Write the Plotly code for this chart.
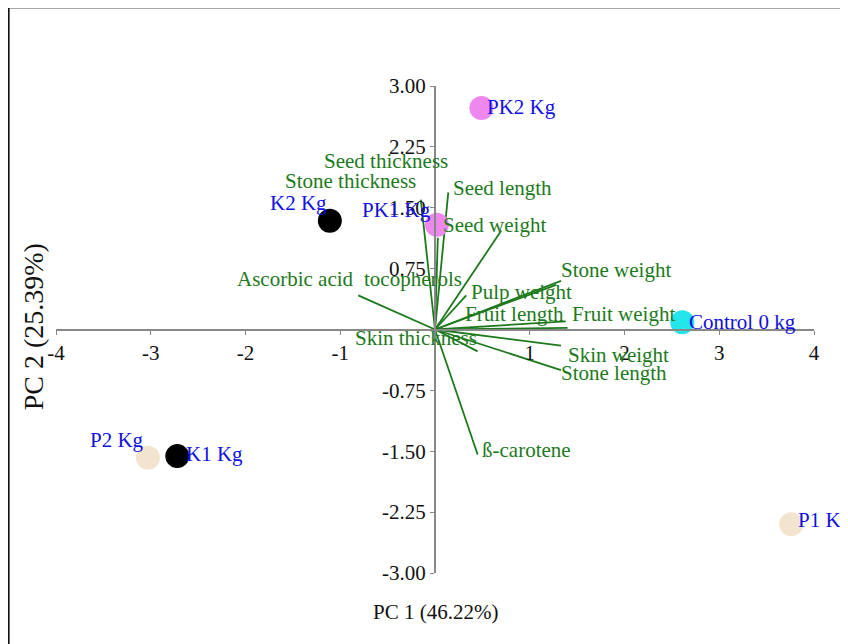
import plotly.graph_objects as go

# ---- sample scores ----
sample_names = ["PK2 Kg", "K2 Kg", "PK1 Kg", "Control 0 kg", "P2 Kg", "K1 Kg", "P1 Kg"]
sample_pc1 = [0.49, -1.11, 0.02, 2.61, -3.03, -2.72, 3.76]
sample_pc2 = [2.73, 1.34, 1.29, 0.09, -1.58, -1.56, -2.40]
sample_colors = ["#EE88EE", "#000000", "#EE88EE", "#22E6EA", "#F3E4CF", "#000000", "#F3E4CF"]

# ---- variable loadings (vector ends) ----
var_names = ["Seed thickness", "Stone thickness", "Seed length", "Seed weight", "Stone weight",
             "Ascorbic acid", "tocopherols", "Pulp weight", "Fruit length", "Fruit weight",
             "Skin thickness", "Skin weight", "Stone length", "ß-carotene"]
var_pc1 = [-0.15, 0.03, 0.14, 0.70, 1.33, -0.81, 0.33, 1.28, 1.38, 1.40, 0.45, 1.33, 1.33, 0.45]
var_pc2 = [1.60, 1.13, 1.69, 1.22, 0.60, 0.42, 0.42, 0.55, 0.10, 0.02, -0.27, -0.20, -0.50, -1.54]

# ---- axis ticks ----
x_ticks = [-4, -3, -2, -1, 1, 2, 3, 4]
y_ticks = [3.00, 2.25, 1.50, 0.75, -0.75, -1.50, -2.25, -3.00]

# label placement (layout only)
var_label_pos = [(-0.517, 2.08, "center"), (-0.887, 1.835, "center"), (0.169, 1.749, "left"),
                 (0.063, 1.293, "left"), (1.309, 0.739, "left"), (-0.834, 0.628, "right"),
                 (0.306, 0.628, "right"), (0.359, 0.456, "left"), (0.296, 0.185, "left"),
                 (1.425, 0.185, "left"), (-0.865, -0.099, "left"), (1.383, -0.320, "left"),
                 (1.309, -0.530, "left"), (0.475, -1.490, "left")]
sample_label_shift = [("left", 4, 1), ("right", -1, 18), ("right", -4, 15), ("left", 5, 0),
                      ("right", -2, 18), ("left", 7, 2), ("left", 5, 4)]

FONT = "Liberation Serif, Times New Roman, serif"
GREEN = "#1C7A1C"
BLUE = "#1010E0"
FS = 21

fig = go.Figure()

vx, vy = [], []
for a, b in zip(var_pc1, var_pc2):
    vx += [0, a, None]
    vy += [0, b, None]
fig.add_trace(go.Scatter(x=vx, y=vy, mode="lines", line=dict(color=GREEN, width=1.8),
                         hoverinfo="skip", showlegend=False))

fig.add_trace(go.Scatter(x=sample_pc1, y=sample_pc2, mode="markers",
                         marker=dict(size=24, color=sample_colors, line=dict(width=0)),
                         cliponaxis=False, showlegend=False, text=sample_names))

annotations = []
for name, (lx, ly, anc) in zip(var_names, var_label_pos):
    annotations.append(dict(x=lx, y=ly, xref="x", yref="y", text=name, showarrow=False,
                            xanchor=anc, yanchor="middle",
                            font=dict(family=FONT, size=FS, color=GREEN)))
for name, px, py, (anc, dx, dy) in zip(sample_names, sample_pc1, sample_pc2, sample_label_shift):
    annotations.append(dict(x=px, y=py, xref="x", yref="y", text=name, showarrow=False,
                            xanchor=anc, yanchor="middle", xshift=dx, yshift=dy,
                            font=dict(family=FONT, size=FS, color=BLUE)))
annotations.append(dict(x=0.5, y=-0.08, xref="paper", yref="paper", text="PC 1 (46.22%)",
                        showarrow=False, xanchor="center", yanchor="middle",
                        font=dict(family=FONT, size=FS, color="#111")))
annotations.append(dict(x=-0.030, y=0.505, xref="paper", yref="paper", text="PC 2 (25.39%)",
                        showarrow=False, textangle=-90, xanchor="center", yanchor="middle",
                        font=dict(family=FONT, size=28, color="#111")))

fig.update_layout(
    width=840, height=636,
    margin=dict(l=48, r=34, t=78, b=71),
    paper_bgcolor="white", plot_bgcolor="white",
    annotations=annotations,
    shapes=[
        dict(type="line", xref="paper", yref="paper", x0=-0.064, x1=1.1, y0=1.162, y1=1.162,
             line=dict(color="#555555", width=3)),
        dict(type="line", xref="paper", yref="paper", x0=-0.0625, x1=-0.0625, y0=1.165, y1=-0.2,
             line=dict(color="#111111", width=2)),
    ],
    xaxis=dict(range=[-4, 4], anchor="free", position=0.5, showgrid=False, zeroline=False,
               showline=True, linecolor="#888888", linewidth=2,
               tickvals=x_ticks, ticktext=[str(v) for v in x_ticks],
               ticks="outside", ticklen=4, tickcolor="#888888",
               tickfont=dict(family=FONT, size=FS, color="#111")),
    yaxis=dict(range=[-3, 3], anchor="free", position=0.5, showgrid=False, zeroline=False,
               showline=True, linecolor="#888888", linewidth=2,
               tickvals=y_ticks, ticktext=["%.2f" % v for v in y_ticks],
               ticks="outside", ticklen=4, tickcolor="#888888",
               tickfont=dict(family=FONT, size=FS, color="#111")),
)

fig.write_html("out.html")
